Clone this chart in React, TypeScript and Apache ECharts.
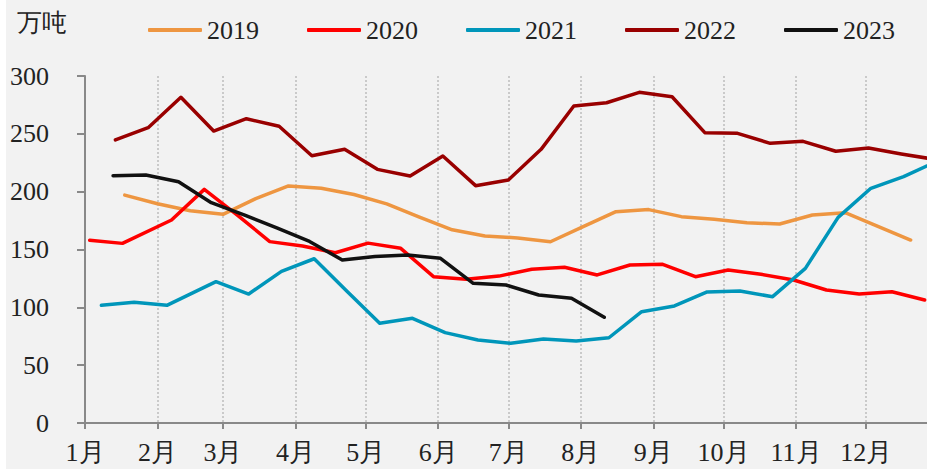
import React, { useEffect, useRef } from "react";
import * as echarts from "echarts";

// x positions are day-of-year of each observation
const MONTH_DAYS = [0, 31, 59, 90, 120, 151, 181, 212, 243, 273, 304, 334];
const MONTH_LABELS = ["1月", "2月", "3月", "4月", "5月", "6月", "7月", "8月", "9月", "10月", "11月", "12月"];
const Y_TICKS = [0, 50, 100, 150, 200, 250, 300];

const DAYS_2019 = [17, 31, 45, 59, 73, 87, 101, 115, 129, 143, 157, 171, 185, 199, 213, 227, 241, 255, 269, 283, 297, 311, 325, 339, 353];
const VALUES_2019 = [197, 189.5, 183.5, 180.4, 194, 205, 203, 197.5, 189.5, 178, 167, 161.7, 160, 156.7, 169.7, 182.7, 184.5, 178.4, 176.1, 173.2, 172, 179.8, 181.8, 170, 158.2];

const DAYS_2020 = [2, 16, 37, 51, 65, 79, 93, 107, 121, 135, 149, 163, 177, 191, 205, 219, 233, 247, 261, 275, 289, 303, 317, 331, 345, 359];
const VALUES_2020 = [158, 155.3, 175.5, 202, 180, 156.8, 153, 147.2, 155.5, 151, 126.5, 124.2, 127, 133, 134.6, 128, 136.6, 137.2, 126.5, 132.3, 128.6, 123.6, 115, 111.5, 113.5, 106.3];

const DAYS_2021 = [7, 21, 35, 56, 70, 84, 98, 112, 126, 140, 154, 168, 182, 196, 210, 224, 238, 252, 266, 280, 294, 308, 322, 336, 350, 364];
const VALUES_2021 = [101.7, 104.3, 101.7, 122.2, 111.5, 131.1, 142, 114, 86.2, 90.5, 78.1, 71.8, 68.9, 72.6, 70.9, 73.7, 96.2, 101.2, 113.3, 114.1, 109.2, 133.7, 177.8, 202.9, 213, 226];

const DAYS_2022 = [13, 27, 41, 55, 69, 83, 97, 111, 125, 139, 153, 167, 181, 195, 209, 223, 237, 251, 265, 279, 293, 307, 321, 335, 349, 363];
const VALUES_2022 = [244.7, 255.3, 281.6, 252.4, 263.1, 256.5, 231.1, 236.6, 219.3, 213.5, 230.8, 205.2, 210.1, 236.6, 274.1, 276.9, 285.9, 282.1, 251, 250.4, 241.8, 243.5, 234.9, 237.7, 232.6, 228];

const DAYS_2023 = [12, 26, 40, 54, 68, 82, 96, 110, 124, 138, 152, 166, 180, 194, 208, 222];
const VALUES_2023 = [213.8, 214.4, 208.6, 190.5, 180, 168.6, 157, 140.9, 144, 145.2, 142.4, 120.8, 119.3, 110.7, 107.8, 91.4];

const SERIES_NAMES = ["2019", "2020", "2021", "2022", "2023"];
const SERIES_COLORS = ["#EE9641", "#FF0000", "#0096BA", "#990000", "#111111"];

const FONT = "Liberation Serif";

const zip = (xs: number[], ys: number[]) => xs.map((x, i) => [x, ys[i]]);

export default function App() {
  const ref = useRef<HTMLDivElement>(null);
  useEffect(() => {
    if (!ref.current) return;
    const chart = echarts.init(ref.current, null, { renderer: "svg" });
    const allData = [
      zip(DAYS_2019, VALUES_2019),
      zip(DAYS_2020, VALUES_2020),
      zip(DAYS_2021, VALUES_2021),
      zip(DAYS_2022, VALUES_2022),
      zip(DAYS_2023, VALUES_2023),
    ];
    chart.setOption({
      animation: false,
      backgroundColor: "#F2F2F2",
      textStyle: { fontFamily: FONT },
      grid: { left: 79, right: 0, top: 76, bottom: 46, containLabel: false },
      legend: {
        left: 137,
        top: 12,
        itemWidth: 54,
        itemHeight: 4,
        itemGap: 48,
        icon: "roundRect",
        textStyle: { fontFamily: FONT, fontSize: 26, color: "#222" },
        data: SERIES_NAMES,
      },
      graphic: [
        {
          type: "text",
          left: 11,
          top: 10,
          style: { text: "万吨", font: `25px ${FONT}`, fill: "#222" },
        },
      ],
      xAxis: {
        type: "value",
        min: 0,
        max: 360,
        axisLine: { show: true, lineStyle: { color: "#898989", width: 2 } },
        axisTick: { show: true, length: 6, customValues: MONTH_DAYS, lineStyle: { color: "#898989", width: 2 } },
        axisLabel: {
          customValues: MONTH_DAYS,
          margin: 16,
          fontSize: 26,
          fontFamily: FONT,
          color: "#222",
          formatter: (v: number) => {
            const i = MONTH_DAYS.indexOf(v);
            return i >= 0 ? MONTH_LABELS[i] : "";
          },
        },
        splitLine: { show: true, lineStyle: { color: "#BDBDBD", type: [2, 2], width: 1.5 } },
      },
      yAxis: {
        type: "value",
        min: 0,
        max: 300,
        interval: 50,
        axisLine: { show: true, lineStyle: { color: "#898989", width: 2 } },
        axisTick: { show: true, length: 8, inside: false, lineStyle: { color: "#898989", width: 2 } },
        axisLabel: {
          margin: 36,
          fontSize: 26,
          fontFamily: FONT,
          color: "#222",
          formatter: (v: number) => (Y_TICKS.includes(v) ? String(v) : ""),
        },
        splitLine: { show: false },
      },
      series: SERIES_NAMES.map((name, i) => ({
        name,
        type: "line",
        data: allData[i],
        showSymbol: false,
        symbol: "none",
        color: SERIES_COLORS[i],
        lineStyle: { width: 3.5, color: SERIES_COLORS[i], cap: "round", join: "round" },
        itemStyle: { color: SERIES_COLORS[i] },
        clip: true,
        z: 2 + i,
      })),
    });
    return () => chart.dispose();
  }, []);
  return (
    <div style={{ position: "absolute", left: 0, top: 0, width: 927, height: 469, background: "#fff" }}>
      <div ref={ref} style={{ position: "absolute", left: 6, top: 0, width: 921, height: 469 }} />
    </div>
  );
}
